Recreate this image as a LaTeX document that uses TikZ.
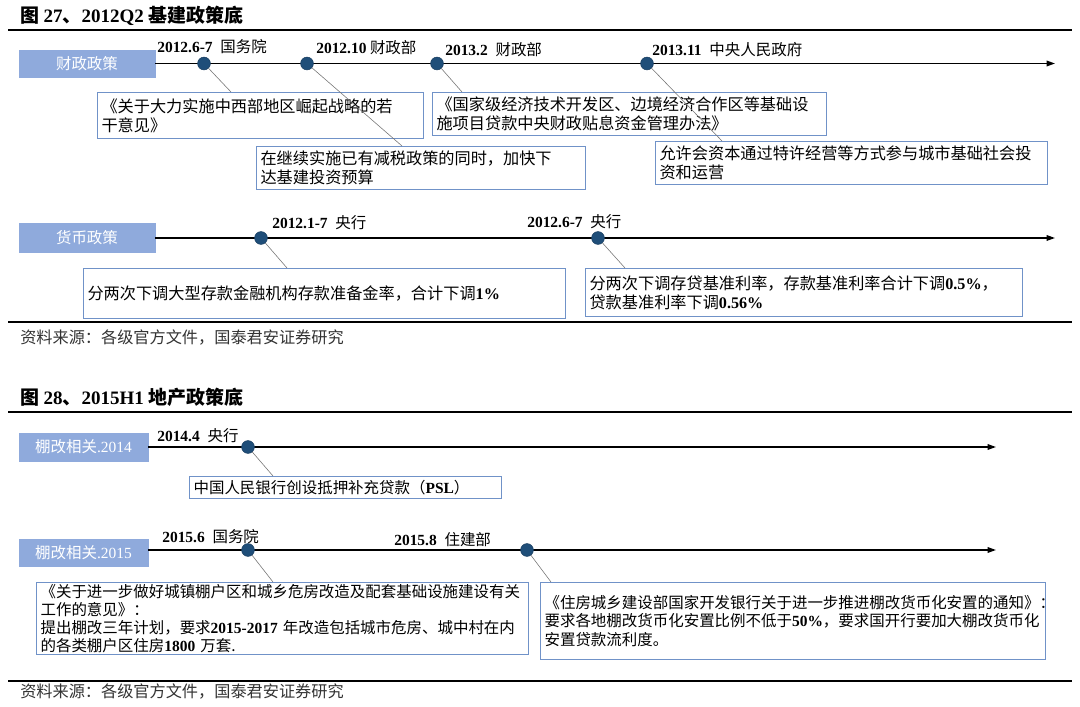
\documentclass[tikz,border=0pt]{standalone}
\usepackage{fontspec}
\setmainfont{Liberation Serif}
\newfontfamily\cn{Noto Sans CJK SC}
\usepackage{tikz}
\usetikzlibrary{arrows.meta}
\definecolor{gtblue}{RGB}{143,170,220}
\definecolor{gtedge}{RGB}{112,146,200}
\definecolor{gtdot}{RGB}{31,78,121}
\newcommand{\tnr}[1]{{\rmfamily\bfseries #1}}
\tikzset{
  figtitle/.style={anchor=west, inner sep=0pt, font=\cn\bfseries\fontsize{13.5}{15}\selectfont},
  tagbox/.style={fill=gtblue, draw=gtblue, text=white, inner sep=0pt, font=\cn\fontsize{11}{13}\selectfont},
  notebox/.style={draw=gtedge, line width=0.8pt, fill=white, anchor=north west, align=left,
    inner xsep=0.1cm, inner ysep=0pt, font=\cn\fontsize{11.5}{13.5}\selectfont},
  smallnote/.style={notebox, font=\cn\fontsize{11}{13}\selectfont},
  datelbl/.style={anchor=west, inner sep=0pt, font=\cn\fontsize{11}{12}\selectfont},
  evdot/.style={circle, fill=gtdot, draw=gtdot!80!black, line width=0.4pt, minimum size=0.32cm, inner sep=0pt},
  tline/.style={line width=1pt, -{Triangle[length=6pt,width=4pt]}},
  leadline/.style={draw=black!55, line width=0.4pt},
  sepline/.style={line width=1.2pt},
  srclbl/.style={anchor=west, inner sep=0pt, text=black!80, font=\cn\fontsize{11.5}{13}\selectfont},
}
\begin{document}
\begin{tikzpicture}[x=0.025cm,y=-0.025cm]
  \useasboundingbox[fill=white] (0,0) rectangle (1080,707);

  % fig 27
  \node[figtitle] (fig27) at (20,16) {图 \tnr{27}、\tnr{2012Q2} 基建政策底};
  \draw[sepline] (8,30) -- (1072,30);

  \node[tagbox, minimum width=3.4cm, minimum height=0.675cm] (fiscal) at (87,63.5) {财政政策};
  \coordinate (fiscalend) at (1055,63.5);
  \draw[tline] (fiscal.east) -- (fiscalend);
  \node[evdot] (f1) at (204,63.5) {};
  \node[evdot] (f2) at (307,63.5) {};
  \node[evdot] (f3) at (437,63.5) {};
  \node[evdot] (f4) at (647,63.5) {};
  \node[datelbl] (f1t) at (157,47) {\tnr{2012.6-7}\hspace{0.5em}国务院};
  \node[datelbl] (f2t) at (316,48) {\tnr{2012.10} 财政部};
  \node[datelbl] (f3t) at (445,50) {\tnr{2013.2}\hspace{0.5em}财政部};
  \node[datelbl] (f4t) at (652,50) {\tnr{2013.11}\hspace{0.5em}中央人民政府};

  \node[notebox, text width=7.95cm, minimum height=1.15cm] (f1b) at (97,92)
    {《关于大力实施中西部地区崛起战略的若\\干意见》};
  \node[notebox, text width=8.025cm, minimum height=1.075cm] (f2b) at (256,146)
    {在继续实施已有减税政策的同时，加快下\\达基建投资预算};
  \node[notebox, text width=9.65cm, minimum height=1.075cm] (f3b) at (432,92)
    {《国家级经济技术开发区、边境经济合作区等基础设\\施项目贷款中央财政贴息资金管理办法》};
  \node[notebox, text width=9.6cm, minimum height=1.075cm] (f4b) at (655,141)
    {允许会资本通过特许经营等方式参与城市基础社会投\\资和运营};
  \coordinate (f1c) at (231,92);
  \coordinate (f2c) at (402,146);
  \coordinate (f3c) at (462,92);
  \coordinate (f4c) at (722,141);
  \foreach \i in {1,...,4} \draw[leadline] (f\i) -- (f\i c);

  \node[tagbox, minimum width=3.4cm, minimum height=0.725cm] (money) at (87,238) {货币政策};
  \coordinate (moneyend) at (1055,238);
  \draw[tline] (money.east) -- (moneyend);
  \node[evdot] (m1) at (261,238) {};
  \node[evdot] (m2) at (598,238) {};
  \node[datelbl] (m1t) at (272,223) {\tnr{2012.1-7}\hspace{0.5em}央行};
  \node[datelbl] (m2t) at (527,222) {\tnr{2012.6-7}\hspace{0.5em}央行};
  \node[notebox, text width=11.85cm, minimum height=1.25cm] (m1b) at (83,268)
    {分两次下调大型存款金融机构存款准备金率，合计下调\tnr{1\%}};
  \node[notebox, text width=10.725cm, minimum height=1.2cm] (m2b) at (585,268)
    {分两次下调存贷基准利率，存款基准利率合计下调\tnr{0.5\%}，\\贷款基准利率下调\tnr{0.56\%}};
  \coordinate (m1c) at (287,268);
  \coordinate (m2c) at (625,268);
  \foreach \i in {1,2} \draw[leadline] (m\i) -- (m\i c);

  \draw[sepline] (8,322) -- (1072,322);
  \node[srclbl] (src27) at (20,338) {资料来源：各级官方文件，国泰君安证券研究};

  % fig 28
  \node[figtitle] (fig28) at (20,397) {图 \tnr{28}、\tnr{2015H1} 地产政策底};
  \draw[sepline] (8,412) -- (1072,412);

  \node[tagbox, minimum width=3.225cm, minimum height=0.7cm] (shack14) at (83.5,447) {棚改相关{\rmfamily .2014}};
  \coordinate (shack14end) at (996,447);
  \draw[tline] (shack14.east) -- (shack14end);
  \node[evdot] (s1) at (248,447) {};
  \node[datelbl] (s1t) at (157,436) {\tnr{2014.4}\hspace{0.5em}央行};
  \node[smallnote, text width=7.6cm, minimum height=0.55cm] (s1b) at (189,476)
    {中国人民银行创设抵押补充贷款（\tnr{PSL}）};
  \coordinate (s1c) at (273,476);
  \draw[leadline] (s1) -- (s1c);

  \node[tagbox, minimum width=3.225cm, minimum height=0.675cm] (shack15) at (83.5,552.5) {棚改相关{\rmfamily .2015}};
  \coordinate (shack15end) at (996,550);
  \draw[tline] (shack15.east |- shack15end) -- (shack15end);
  \node[evdot] (s2) at (248,550) {};
  \node[evdot] (s3) at (527,550) {};
  \node[datelbl] (s2t) at (162,537) {\tnr{2015.6}\hspace{0.5em}国务院};
  \node[datelbl] (s3t) at (394,540) {\tnr{2015.8}\hspace{0.5em}住建部};
  \node[smallnote, text width=12.1cm, minimum height=1.8cm] (s2b) at (36,582)
    {《关于进一步做好城镇棚户区和城乡危房改造及配套基础设施建设有关\\工作的意见》：\\提出棚改三年计划，要求\tnr{2015-2017} 年改造包括城市危房、城中村在内\\的各类棚户区住房\tnr{1800} 万套.};
  \node[smallnote, text width=12.425cm, minimum height=1.925cm] (s3b) at (540,582)
    {《住房城乡建设部国家开发银行关于进一步推进棚改货币化安置的通知》：\\要求各地棚改货币化安置比例不低于\tnr{50\%}，要求国开行要加大棚改货币化\\安置贷款流利度。};
  \coordinate (s2c) at (273,582);
  \coordinate (s3c) at (551,582);
  \foreach \i in {2,3} \draw[leadline] (s\i) -- (s\i c);

  \draw[sepline] (8,681) -- (1072,681);
  \node[srclbl] (src28) at (20,692) {资料来源：各级官方文件，国泰君安证券研究};
\end{tikzpicture}
\end{document}
